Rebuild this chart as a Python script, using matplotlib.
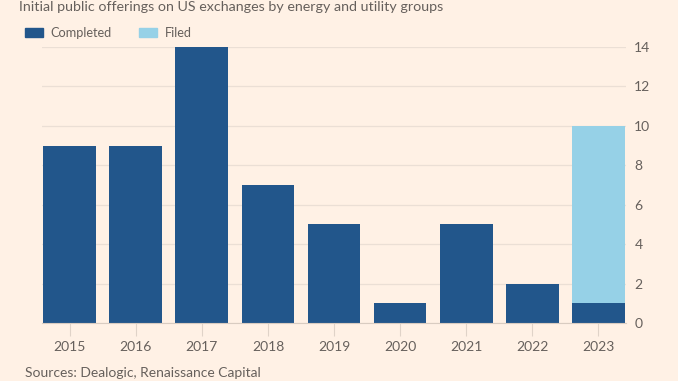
import matplotlib.pyplot as plt
import numpy as np

plt.rcParams['font.family'] = ['Lato', 'DejaVu Sans']

years = ["2015", "2016", "2017", "2018", "2019", "2020", "2021", "2022", "2023"]
completed = [9, 9, 14, 7, 5, 1, 5, 2, 1]
filed = [0, 0, 0, 0, 0, 0, 0, 0, 9]

BG = "#FFF1E5"
DARK = "#22568B"
LIGHT = "#96D1E7"
TXT = "#66605C"
GRID = "#EBDFD5"

fig = plt.figure(figsize=(6.78, 3.81), dpi=100, facecolor=BG)
ax = fig.add_axes([42 / 678, 1 - 323 / 381, 584 / 678, 276 / 381])
ax.set_facecolor(BG)

x = np.arange(len(years))
ax.bar(x, completed, width=0.8, color=DARK, zorder=3)
ax.bar(x, filed, width=0.8, bottom=completed, color=LIGHT, zorder=3)

ax.set_xlim(-0.42, len(years) - 0.58)
ax.set_ylim(0, 14)
ax.set_yticks(range(0, 15, 2))
ax.yaxis.tick_right()
ax.tick_params(axis='y', length=0, pad=6, labelsize=10, labelcolor=TXT)
ax.set_xticks(x)
ax.set_xticklabels(years)
ax.tick_params(axis='x', length=9, width=0.8, color="#E0D3C8", pad=4,
               labelsize=10, labelcolor=TXT)
ax.grid(axis='y', color=GRID, linewidth=0.9, zorder=0)
for s in ["top", "right", "left"]:
    ax.spines[s].set_visible(False)
ax.spines["bottom"].set_color("#D9CCC1")
ax.spines["bottom"].set_zorder(4)

fig.text(19 / 678, 1 - 7 / 381, "Initial public offerings on US exchanges by energy and utility groups",
         fontsize=10.3, color=TXT, va='center', ha='left')

# legend
fig.patches.append(plt.Rectangle((25 / 678, 1 - 37 / 381), 18 / 678, 9 / 381,
                                 transform=fig.transFigure, color=DARK))
fig.text(50 / 678, 1 - 33 / 381, "Completed", fontsize=9.2, color=TXT, va='center')
fig.patches.append(plt.Rectangle((139 / 678, 1 - 37 / 381), 18 / 678, 9 / 381,
                                 transform=fig.transFigure, color=LIGHT))
fig.text(165 / 678, 1 - 33 / 381, "Filed", fontsize=9.2, color=TXT, va='center')

fig.text(25 / 678, 1 - 373 / 381, "Sources: Dealogic, Renaissance Capital",
         fontsize=10, color=TXT, va='center', ha='left')

fig.savefig("out.png", dpi=100, facecolor=BG)
